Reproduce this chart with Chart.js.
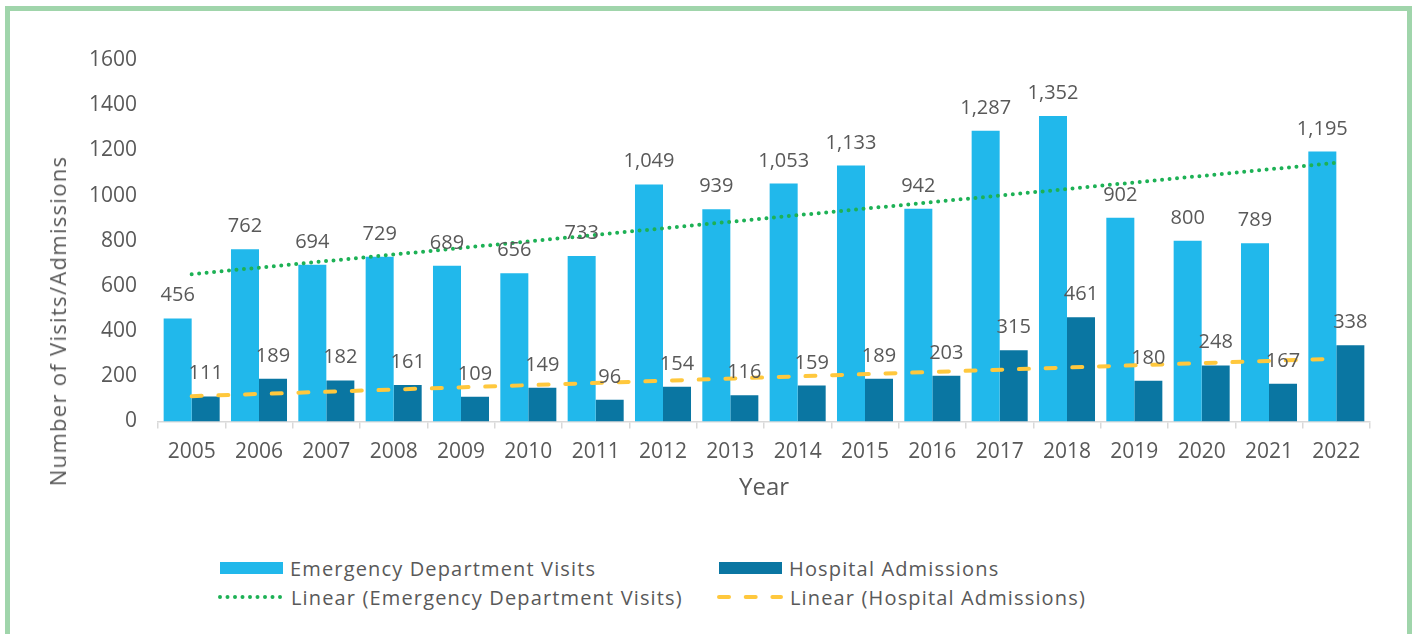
<!DOCTYPE html>
<html>
<head>
<meta charset="utf-8">
<script src="https://cdn.jsdelivr.net/npm/chart.js@4/dist/chart.umd.min.js"></script>
<style>
  html, body { margin: 0; padding: 0; background: #ffffff; }
  body { width: 1416px; height: 634px; position: relative; overflow: hidden; font-family: 'Open Sans', 'Lato', sans-serif; color: #595959; }
  #frame { position: absolute; left: 5px; top: 6px; width: 1397px; height: 700px; border: 5px solid #A0D5AB; box-sizing: content-box; }
  #wrap { position: absolute; left: 0; top: 0; width: 1416px; height: 520px; }
  #ytitle { position: absolute; left: 57px; top: 321px; transform: translate(-50%, -50%) rotate(-90deg); white-space: nowrap; font-size: 22px; letter-spacing: 1.3px; color: #595959; }
  .leg { position: absolute; display: flex; align-items: center; font-size: 20px; letter-spacing: 1.15px; color: #595959; white-space: nowrap; height: 26px; }
  .leg svg { margin-right: 7px; }
</style>
</head>
<body>
<div id="frame"></div>
<div id="wrap"><canvas id="c" width="1416" height="520"></canvas></div>
<div id="ytitle">Number of Visits/Admissions</div>
<div id="legend"></div>
<script>
// ---- Data ----
const years = ['2005','2006','2007','2008','2009','2010','2011','2012','2013','2014','2015','2016','2017','2018','2019','2020','2021','2022'];
const edVisits = [456, 762, 694, 729, 689, 656, 733, 1049, 939, 1053, 1133, 942, 1287, 1352, 902, 800, 789, 1195];
const hospAdmissions = [111, 189, 182, 161, 109, 149, 96, 154, 116, 159, 189, 203, 315, 461, 180, 248, 167, 338];
// trend line end values (first and last year)
const edTrendEnds = [652, 1145];
const hospTrendEnds = [112, 278];
const yTickMin = 0, yTickMax = 1600, yTickStep = 200;

const seriesNames = ['Emergency Department Visits', 'Hospital Admissions', 'Linear (Emergency Department Visits)', 'Linear (Hospital Admissions)'];

const GRAY = '#595959';
const FONT = "'Open Sans', 'Lato', sans-serif";

function endsToSeries(ends) {
  return years.map((y, i) => i === 0 ? ends[0] : (i === years.length - 1 ? ends[1] : null));
}

const labelPlugin = {
  id: 'barLabels',
  afterDatasetsDraw(chart) {
    const ctx = chart.ctx;
    ctx.save();
    ctx.font = '20px ' + FONT;
    ctx.fillStyle = GRAY;
    ctx.textAlign = 'center';
    ctx.textBaseline = 'alphabetic';
    chart.data.datasets.forEach((ds, i) => {
      if (ds.type !== 'bar') return;
      const meta = chart.getDatasetMeta(i);
      meta.data.forEach((bar, j) => {
        ctx.fillText(ds.data[j].toLocaleString('en-US'), bar.x, bar.y - 17);
      });
    });
    ctx.restore();
  }
};

const chart = new Chart(document.getElementById('c'), {
  type: 'bar',
  data: {
    labels: years,
    datasets: [
      { type: 'bar', label: seriesNames[0], data: edVisits, backgroundColor: '#21B8EB', borderWidth: 0,
        categoryPercentage: 0.832, barPercentage: 1.0, order: 2 },
      { type: 'bar', label: seriesNames[1], data: hospAdmissions, backgroundColor: '#0A76A2', borderWidth: 0,
        categoryPercentage: 0.832, barPercentage: 1.0, order: 2 },
      { type: 'line', label: seriesNames[2], data: endsToSeries(edTrendEnds), spanGaps: true,
        borderColor: '#1DB155', borderWidth: 4, borderDash: [0, 7.5], borderCapStyle: 'round',
        pointRadius: 0, pointHoverRadius: 0, fill: false, tension: 0, order: 1 },
      { type: 'line', label: seriesNames[3], data: endsToSeries(hospTrendEnds), spanGaps: true,
        borderColor: '#FFC83D', borderWidth: 4, borderDash: [10, 16.7], borderCapStyle: 'round',
        pointRadius: 0, pointHoverRadius: 0, fill: false, tension: 0, order: 1 }
    ]
  },
  options: {
    responsive: false,
    animation: false,
    layout: { padding: { left: 0, right: 46, top: 60, bottom: 0 } },
    plugins: { legend: { display: false }, tooltip: { enabled: false } },
    scales: {
      x: {
        grid: { display: true, drawOnChartArea: false, drawTicks: true, tickLength: 7, color: '#D9D9D9', lineWidth: 1.5, offset: true },
        border: { display: true, color: '#D9D9D9', width: 1.5 },
        ticks: { font: { size: 21, family: FONT }, color: GRAY, padding: 11, maxRotation: 0, autoSkip: false },
        title: { display: true, text: 'Year', font: { size: 24, family: FONT }, color: GRAY, padding: { top: 0, bottom: 17 } },
        afterFit(scale) { scale.height = 98.5; }
      },
      y: {
        min: yTickMin, max: yTickMax,
        grid: { display: false, drawTicks: false },
        border: { display: false },
        ticks: { stepSize: yTickStep, font: { size: 21, family: FONT }, color: GRAY, padding: 21,
                 callback: (v) => String(v) },
        afterFit(scale) { scale.width = 158; }
      }
    }
  },
  plugins: [labelPlugin]
});

// HTML legend built from the chart's datasets (2 x 2 grid)
(function buildLegend() {
  const host = document.getElementById('legend');
  const pos = [
    { left: 220, top: 555 }, { left: 719, top: 555 },
    { left: 218, top: 584 }, { left: 717, top: 584 }
  ];
  chart.data.datasets.forEach((ds, i) => {
    const item = document.createElement('div');
    item.className = 'leg';
    item.style.left = pos[i].left + 'px';
    item.style.top = pos[i].top + 'px';
    let svg;
    if (ds.type === 'bar') {
      svg = `<svg width="63" height="12"><rect x="0" y="0" width="63" height="12" fill="${ds.backgroundColor}"/></svg>`;
    } else {
      const dash = ds.borderDash.join(' ');
      svg = `<svg width="66" height="12"><line x1="2" y1="6" x2="64" y2="6" stroke="${ds.borderColor}" stroke-width="4" stroke-linecap="round" stroke-dasharray="${dash}"/></svg>`;
    }
    item.innerHTML = svg + '<span>' + ds.label + '</span>';
    host.appendChild(item);
  });
})();
</script>
</body>
</html>
